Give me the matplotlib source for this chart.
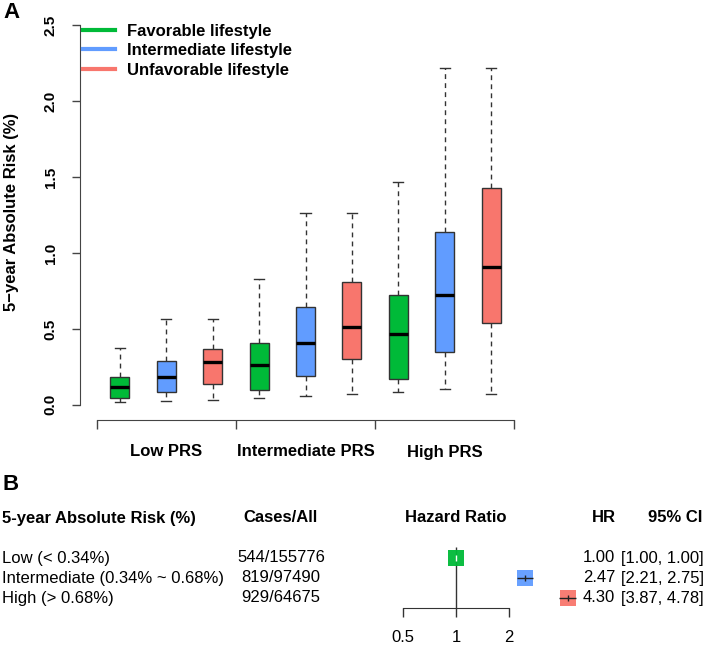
import matplotlib
matplotlib.use("Agg")
import matplotlib.pyplot as plt
from matplotlib.lines import Line2D
from matplotlib.transforms import blended_transform_factory

plt.rcParams["font.family"] = ["Liberation Sans", "DejaVu Sans"]

# ---------- data -----------------------------------------------------------
groups = ["Low PRS", "Intermediate PRS", "High PRS"]
lifestyles = ["Favorable lifestyle", "Intermediate lifestyle", "Unfavorable lifestyle"]
colors = ["#00BA38", "#619CFF", "#F8766D"]

# whisker low, q1, median, q3, whisker high (one row per box, group-major order)
whislo = [0.020, 0.026, 0.033, 0.048, 0.059, 0.072, 0.086, 0.105, 0.070]
q1 = [0.042, 0.086, 0.134, 0.096, 0.193, 0.303, 0.171, 0.347, 0.537]
med = [0.118, 0.182, 0.281, 0.261, 0.408, 0.513, 0.465, 0.722, 0.908]
q3 = [0.184, 0.289, 0.366, 0.410, 0.643, 0.809, 0.726, 1.138, 1.430]
whishi = [0.373, 0.566, 0.566, 0.829, 1.263, 1.263, 1.465, 2.217, 2.217]

risk_labels = ["Low (< 0.34%)", "Intermediate (0.34% ~ 0.68%)", "High (> 0.68%)"]
cases = [544, 819, 929]
totals = [155776, 97490, 64675]
hr = [1.00, 2.47, 4.30]
ci_lo = [1.00, 2.21, 3.87]
ci_hi = [1.00, 2.75, 4.78]

W, H = 708, 646


def fx(x):
    return x / W


def fy(y):
    return 1 - y / H


fig = plt.figure(figsize=(W / 100, H / 100), dpi=100)

# ---------- panel A --------------------------------------------------------
ax = fig.add_axes([fx(80), fy(420), (531 - 80) / W, 410 / H])
stats = [
    {"whislo": a, "q1": b, "med": c, "q3": d, "whishi": e, "fliers": []}
    for a, b, c, d, e in zip(whislo, q1, med, q3, whishi)
]
pos = list(range(1, len(stats) + 1))
bp = ax.bxp(stats, positions=pos, widths=0.41, patch_artist=True,
            capwidths=0.22,
            boxprops=dict(edgecolor="#333333", linewidth=1.0),
            medianprops=dict(color="black", linewidth=2.4, solid_capstyle="butt"),
            whiskerprops=dict(color="#333333", linewidth=1.0, linestyle=(0, (3.5, 3))),
            capprops=dict(color="#333333", linewidth=1.0))
for i, patch in enumerate(bp["boxes"]):
    patch.set_facecolor(colors[i % 3])

ax.set_xlim(0.14, 9.86)
ax.set_ylim(-0.1, 2.6)
for s in ("top", "right"):
    ax.spines[s].set_visible(False)
for s in ("left", "bottom"):
    ax.spines[s].set_color("#444444")
ax.spines["left"].set_bounds(0, 2.5)
ax.spines["bottom"].set_bounds(0.5, 9.5)
ax.set_yticks([0, 0.5, 1.0, 1.5, 2.0, 2.5])
ax.set_yticklabels(["0.0", "0.5", "1.0", "1.5", "2.0", "2.5"], rotation=90,
                   va="center", fontweight="bold", fontsize=11)
ax.set_xticks([0.5, 3.5, 6.5, 9.5])
ax.set_xticklabels([])
ax.tick_params(axis="y", length=6, width=1, color="#444444", pad=10)
ax.tick_params(axis="x", length=6.5, width=1, color="#444444")
ax.set_ylabel("5\u2212year Absolute Risk (%)", fontsize=12, fontweight="bold",
              va="center")
ax.yaxis.set_label_coords(-0.151, 0.507)

trans = blended_transform_factory(ax.transData, ax.transAxes)
for k, g in enumerate(groups):
    ax.text(3 * k + 2, (420 - 452) / 410, g, transform=trans, ha="center",
            va="center", fontsize=12, fontweight="bold")

handles = [Line2D([], [], color=c, linewidth=3) for c in colors]
ax.legend(handles, lifestyles, loc="upper left", bbox_to_anchor=(0.006, 0.967),
          frameon=False, borderaxespad=0, borderpad=0, handlelength=1.95,
          handletextpad=0.7, labelspacing=0.28,
          prop={"size": 12, "weight": "bold"})

fig.text(fx(3), fy(13), "A", fontsize=16, fontweight="bold", va="center")

# ---------- panel B --------------------------------------------------------
fig.text(fx(2), fy(484), "B", fontsize=16, fontweight="bold", va="center")
hdr_y = fy(518)
fig.text(fx(2), hdr_y, "5-year Absolute Risk (%)", fontsize=12,
         fontweight="bold", va="center")
fig.text(fx(281), hdr_y, "Cases/All", fontsize=12, fontweight="bold",
         va="center", ha="center")
fig.text(fx(456), hdr_y, "Hazard Ratio", fontsize=12, fontweight="bold",
         va="center", ha="center")
fig.text(fx(604), hdr_y, "HR", fontsize=12, fontweight="bold",
         va="center", ha="center")
fig.text(fx(675), hdr_y, "95% CI", fontsize=12, fontweight="bold",
         va="center", ha="center")

row_px = [558, 578, 598]
for i in range(3):
    y = fy(row_px[i])
    fig.text(fx(2), y, risk_labels[i], fontsize=12, va="center")
    fig.text(fx(281), y, f"{cases[i]}/{totals[i]}", fontsize=12,
             va="center", ha="center")
    fig.text(fx(615), y, f"{hr[i]:.2f}", fontsize=12, va="center", ha="right")
    fig.text(fx(621), y, f"[{ci_lo[i]:.2f}, {ci_hi[i]:.2f}]", fontsize=12,
             va="center", ha="left")

# forest plot: 53 px per doubling, HR = 1 at x = 456 px
fax = fig.add_axes([fx(380), fy(608), 220 / W, 68 / H])
fax.set_xscale("log", base=2)
fax.set_xlim(2 ** ((380 - 456) / 53), 2 ** ((600 - 456) / 53))
fax.set_ylim(0.5, 3.9)
fax.patch.set_alpha(0)
for s in ("top", "right", "left"):
    fax.spines[s].set_visible(False)
fax.spines["bottom"].set_bounds(0.5, 2)
fax.spines["bottom"].set_color("#333333")
fax.set_yticks([])
fax.set_xticks([0.5, 1, 2])
fax.set_xticklabels(["0.5", "1", "2"], fontsize=12)
fax.minorticks_off()
fax.tick_params(axis="x", length=6.5, width=1, color="#333333", pad=9)
fax.vlines(1, 0.5, 3.55, color="#333333", linewidth=1)
for i in range(3):
    yv = 3 - i
    fax.plot(hr[i], yv, marker="s", markersize=11.5, color=colors[i],
             markeredgewidth=0, alpha=0.95, zorder=3)
    fax.hlines(yv, ci_lo[i], ci_hi[i], color="#222222", linewidth=1, zorder=4)
    fax.plot(hr[i], yv, marker="|", markersize=5,
             color="white" if i == 0 else "#222222", markeredgewidth=1, zorder=5)

fig.savefig("out.png", dpi=100)
